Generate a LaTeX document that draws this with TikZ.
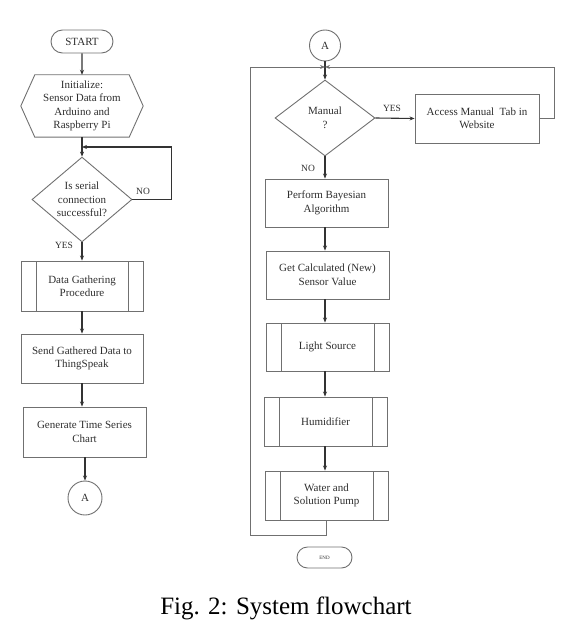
\documentclass[tikz,border=0pt]{standalone}
\usepackage{fontspec}
\setmainfont{Liberation Serif}
\usetikzlibrary{shapes.geometric,shapes.misc,arrows.meta}
\definecolor{boxc}{HTML}{707070}
\definecolor{linec}{HTML}{333333}
\definecolor{txtc}{HTML}{2E2E2E}
\tikzset{
  base/.style={text=txtc,font=\fontsize{11}{13.5}\selectfont,align=center,inner sep=0pt},
  box/.style={base,draw=boxc,line width=0.9pt,rectangle,minimum width=122pt,minimum height=49pt},
  subproc/.style={box,path picture={
     \draw[boxc,line width=0.9pt] ([xshift=15pt]path picture bounding box.north west) -- ([xshift=15pt]path picture bounding box.south west);
     \draw[boxc,line width=0.9pt] ([xshift=-15pt]path picture bounding box.north east) -- ([xshift=-15pt]path picture bounding box.south east);}},
  decision/.style={base,draw=boxc,line width=0.9pt,diamond,minimum width=100pt,minimum height=76pt},
  term/.style={base,draw=boxc,line width=0.9pt,rounded rectangle},
  conn/.style={base,draw=boxc,line width=0.9pt,circle},
  arr/.style={draw=linec,line width=1.1pt,-{Stealth[length=5pt,width=4pt]}},
  looparr/.style={draw=boxc,line width=0.9pt,-{Stealth[length=5pt,width=4pt]}},
  lbl/.style={text=txtc,font=\fontsize{9.5}{11}\selectfont,inner sep=0pt},
}
\begin{document}
\begin{tikzpicture}[x=1pt,y=-1pt]
\useasboundingbox (0,0) rectangle (577,631);
% left column
\node[term,minimum width=62pt,minimum height=23pt] (start) at (82,41.5) {START};
\node[base,minimum width=122pt,minimum height=62pt] (init) at (82,106) {Initialize:\\Sensor Data from\\Arduino and\\Raspberry Pi};
\draw[boxc,line width=0.9pt] ([xshift=14pt]init.north west) -- ([xshift=-14pt]init.north east) -- (init.east)
  -- ([xshift=-14pt]init.south east) -- ([xshift=14pt]init.south west) -- (init.west) -- cycle;
\node[decision,minimum height=75pt] (serial) at (82,199.5) {Is serial\\connection\\successful?};
\node[subproc,minimum height=50pt] (dg) at (82,286) {Data Gathering\\Procedure};
\node[box] (send) at (82,358.5) {Send Gathered Data to\\ThingSpeak};
\node[box,minimum width=123pt,minimum height=50pt] (gen) at (84.5,432) {Generate Time Series\\Chart};
\node[conn,minimum size=34pt] (a1) at (85,498) {A};
\coordinate (j1) at (82,147);
\draw[arr] (start) -- (init);
\draw[arr] (init.south) -- (serial.north);
\draw[arr] (serial.east) -- ++(39,0) |- (j1);
\node[lbl,anchor=south west] (no1) at (136,195) {NO};
\draw[arr] (serial.south) -- (dg.north);
\node[lbl] (yes1) at (64,245) {YES};
\draw[arr] (dg) -- (send);
\draw[arr] (send.south) -- (send.south |- gen.north);
\draw[arr] (gen.south -| a1) -- (a1.north);
% right column
\node[conn,minimum size=31pt] (a2) at (325,45.5) {A};
\node[decision] (manual) at (325,118) {Manual\\?};
\node[box,minimum width=124pt] (access) at (477,118.5) {Access Manual\ \ Tab in\\Website};
\node[box,minimum width=123pt,minimum height=48pt] (perform) at (326.5,203) {Perform Bayesian\\Algorithm};
\node[box,minimum width=123pt,minimum height=48pt] (getc) at (327.5,275) {Get Calculated (New)\\Sensor Value};
\node[subproc,minimum width=123pt,minimum height=48pt] (light) at (327.5,347) {Light Source};
\node[subproc,minimum width=123pt] (humid) at (325.5,421.5) {Humidifier};
\node[subproc,minimum width=123pt] (pump) at (326.5,495.5) {Water and\\Solution Pump};
\node[term,minimum width=55pt,minimum height=21pt,font=\fontsize{5}{6}\selectfont] (end) at (324.5,557.5) {END};
\coordinate (j2) at (325,67);
\coordinate (cl) at (250,535);
\coordinate (ct) at (250,67);
\draw[arr] (a2.south) -- (manual.north);
\draw[arr] (manual.east) -- (access.west);
\node[lbl,anchor=south] (yes2) at (392,112) {YES};
\draw[looparr] (access.east) -- ++(15,0) |- (j2);
\draw[looparr] (pump.south) |- (cl) -- (ct) -- (j2);
\draw[arr] (manual.south) -- (manual.south |- perform.north);
\node[lbl] (no2) at (308,168) {NO};
\draw[arr] (perform.south -| manual) -- (manual |- getc.north);
\draw[arr] (getc.south -| manual) -- (manual |- light.north);
\draw[arr] (light.south -| manual) -- (manual |- humid.north);
\draw[arr] (humid.south -| manual) -- (manual |- pump.north);
% caption
\node[inner sep=0pt,font=\fontsize{25}{28}\selectfont] (cap) at (286,608) {Fig. 2: System flowchart};
\end{tikzpicture}
\end{document}
